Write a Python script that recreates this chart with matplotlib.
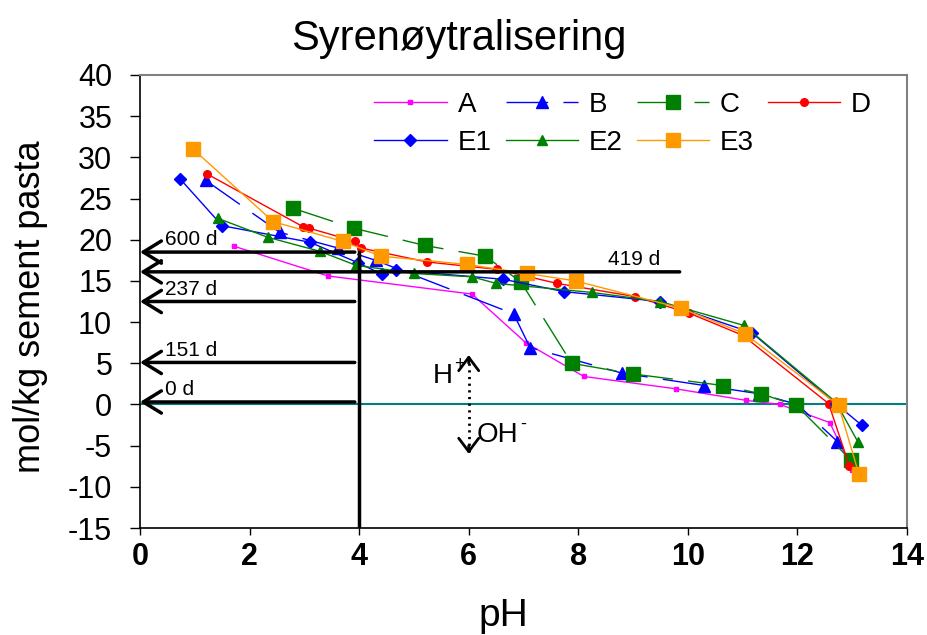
import matplotlib
matplotlib.use('Agg')
import matplotlib.pyplot as plt
from matplotlib.transforms import offset_copy

plt.rcParams['font.family'] = ['Liberation Sans', 'DejaVu Sans']
plt.rcParams['axes.unicode_minus'] = False

# pH / mol per kg cement paste for each sample
a_ph = [1.72, 3.43, 6.06, 7.04, 8.10, 9.78, 11.06, 11.68, 12.59, 13.00]
a_val = [19.2, 15.6, 13.4, 7.5, 3.4, 1.9, 0.5, 0.0, -2.2, -7.9]

b_ph = [1.20, 2.55, 3.61, 4.30, 6.82, 7.12, 8.80, 10.30, 11.30, 12.00, 12.73]
b_val = [27.2, 20.9, 19.0, 17.5, 11.0, 6.9, 3.8, 2.3, 1.3, 0.0, -4.5]

c_ph = [2.80, 3.90, 5.20, 6.30, 6.95, 7.88, 9.00, 10.64, 11.33, 11.98, 12.97]
c_val = [23.8, 21.4, 19.3, 18.0, 14.9, 5.0, 3.7, 2.3, 1.3, -0.1, -6.7]

d_ph = [1.22, 2.97, 3.09, 3.92, 4.03, 5.24, 6.52, 7.61, 9.03, 10.02, 11.00, 12.57, 12.95]
d_val = [28.0, 21.6, 21.4, 19.8, 19.0, 17.3, 16.4, 14.7, 13.1, 11.1, 8.4, 0.1, -7.5]

e1_ph = [0.73, 1.50, 3.10, 3.98, 4.42, 4.67, 6.63, 7.74, 9.49, 11.17, 12.70, 13.17]
e1_val = [27.4, 21.7, 19.7, 17.2, 15.8, 16.3, 15.2, 13.7, 12.5, 8.7, 0.1, -2.5]

e2_ph = [1.42, 2.33, 3.28, 3.94, 5.00, 6.06, 6.50, 8.25, 9.49, 11.02, 12.70, 13.10]
e2_val = [22.6, 20.3, 18.6, 16.9, 15.9, 15.5, 14.7, 13.6, 12.5, 9.6, 0.3, -4.5]

e3_ph = [0.97, 2.43, 3.70, 4.40, 5.97, 7.06, 7.95, 9.87, 11.04, 12.75, 13.12]
e3_val = [31.0, 22.2, 19.8, 18.0, 17.0, 15.9, 15.0, 11.7, 8.6, -0.1, -8.4]

# exposure time lines: label, level, end pH
day_labels = ['600 d', '419 d', '237 d', '151 d', '0 d']
day_levels = [18.5, 16.1, 12.5, 5.1, 0.3]
day_ends = [3.92, 9.85, 3.92, 3.92, 3.92]

fig = plt.figure(figsize=(9.28, 6.35), dpi=100)
ax = fig.add_axes([140 / 928, 1 - 528 / 635, 767 / 928, 453 / 635])

long_dash = (0, (30, 11))
ax.plot(a_ph, a_val, color='#FF00FF', lw=1, marker='s', ms=3.5, label='A')
ax.plot(b_ph, b_val, color='#0000FF', lw=1, ls=long_dash, marker='^', ms=8, label='B')
ax.plot(c_ph, c_val, color='#008000', lw=1, ls=long_dash, marker='s', ms=10.5, label='C')
ax.plot(d_ph, d_val, color='#FF0000', lw=1, marker='o', ms=5.5, label='D')
ax.plot(e1_ph, e1_val, color='#0000FF', lw=1, marker='D', ms=6, label='E1')
ax.plot(e2_ph, e2_val, color='#008000', lw=1, marker='^', ms=7.5, label='E2')
ax.plot(e3_ph, e3_val, color='#FF9900', lw=1, marker='s', ms=10.5, label='E3')

ax.axhline(0, color='#008080', lw=1.5, zorder=1)

# vertical line at pH 4 and the day arrows
ax.plot([4, 4], [-15, day_levels[0]], color='black', lw=2.5, zorder=5)
for lab, lev, end in zip(day_labels, day_levels, day_ends):
    ax.annotate('', xy=(0, lev), xytext=(end, lev),
                arrowprops=dict(arrowstyle='->,head_length=0.65,head_width=0.4',
                                lw=2.5, color='black', shrinkA=0, shrinkB=0,
                                mutation_scale=20),
                zorder=5)
    tx = 8.55 if lab == '419 d' else 0.45
    ax.text(tx, lev + 0.8, lab, fontsize=15, va='baseline')

# H+ / OH- dotted double arrow
ax.plot([6.0, 6.0], [-5.8, 5.8], color='black', lw=2, ls=(0, (0.8, 1.6)))
for y0, y1 in [(5.0, 6.0), (-5.0, -6.0)]:
    ax.annotate('', xy=(6.0, y1), xytext=(6.0, y0),
                arrowprops=dict(arrowstyle='->,head_length=0.6,head_width=0.45',
                                lw=2, color='black', shrinkA=0, shrinkB=0,
                                mutation_scale=16))
ax.text(5.35, 2.6, 'H', fontsize=20, va='baseline')
ax.text(5.35, 2.6, '+', fontsize=13, va='baseline',
        transform=offset_copy(ax.transData, fig, x=15, y=10, units='points'))
ax.text(6.15, -4.6, 'OH', fontsize=20, va='baseline')
ax.text(6.15, -4.6, '-', fontsize=13, va='baseline',
        transform=offset_copy(ax.transData, fig, x=31, y=10, units='points'))

ax.set_xlim(0, 14)
ax.set_ylim(-15, 40)
ax.set_xticks(range(0, 15, 2))
ax.set_yticks(range(-15, 41, 5))
ax.tick_params(axis='y', direction='out', length=7, width=1, labelsize=22, pad=13)
ax.tick_params(axis='x', direction='out', length=5, width=1, labelsize=22, pad=5)
for t in ax.get_xticklabels():
    t.set_fontweight('bold')

for side in ['top', 'right']:
    ax.spines[side].set_color('#808080')
    ax.spines[side].set_linewidth(1.5)
for side in ['left', 'bottom']:
    ax.spines[side].set_color('black')
    ax.spines[side].set_linewidth(1.2)

handles, labels = ax.get_legend_handles_labels()
order = [0, 4, 1, 5, 2, 6, 3]
ax.legend([handles[i] for i in order], [labels[i] for i in order],
          ncol=4, frameon=False, fontsize=20, loc='upper right',
          bbox_to_anchor=(0.975, 1.0), handlelength=2.6, columnspacing=0.5,
          handletextpad=0.4, labelspacing=0.45, borderaxespad=0.2)

fig.text(0.494, 1 - 50 / 635, 'Syrenøytralisering', fontsize=30, ha='center', va='baseline')
fig.text(0.542, 1 - 626 / 635, 'pH', fontsize=28, ha='center', va='baseline')
fig.text(0.033, 0.517, 'mol/kg sement pasta', fontsize=26, rotation=90, ha='center', va='center')

fig.savefig('out.png', dpi=100)
